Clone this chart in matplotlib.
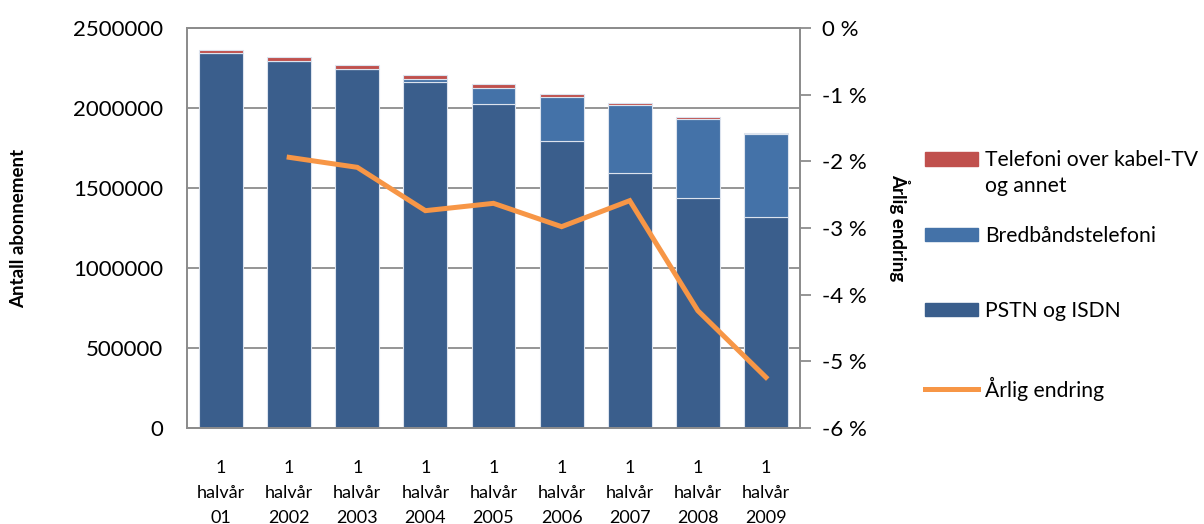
import matplotlib.pyplot as plt
from matplotlib.patches import Patch
from matplotlib.lines import Line2D
from matplotlib.ticker import FuncFormatter

plt.rcParams['font.family'] = ['Lato', 'DejaVu Sans']

# data
labels = ["1\nhalvår\n01", "1\nhalvår\n2002", "1\nhalvår\n2003", "1\nhalvår\n2004",
          "1\nhalvår\n2005", "1\nhalvår\n2006", "1\nhalvår\n2007", "1\nhalvår\n2008",
          "1\nhalvår\n2009"]
pstn = [2343750, 2293750, 2241700, 2164600, 2027100, 1791700, 1591700, 1439600, 1316700]
bredband = [0, 0, 0, 16600, 95800, 275000, 425000, 493700, 518700]
kabeltv = [18750, 22950, 27050, 25000, 25000, 18700, 12500, 8400, 8350]
endring = [None, -1.94, -2.09, -2.74, -2.63, -2.98, -2.59, -4.24, -5.24]

c_pstn = "#3A5E8C"
c_bb = "#4472A8"
c_kab = "#C0504D"
c_line = "#F79646"
c_axis = "#8C8C8C"

fig = plt.figure(figsize=(12.04, 5.24), dpi=100)
ax = fig.add_axes([187 / 1204, 1 - 428 / 524, 613 / 1204, 400 / 524])

x = list(range(len(labels)))
w = 0.645
edge = dict(edgecolor="#DCE3EE", linewidth=0.8)
ax.bar(x, pstn, w, color=c_pstn, zorder=2, **edge)
ax.bar(x, bredband, w, bottom=pstn, color=c_bb, zorder=2, **edge)
bot2 = [a + b for a, b in zip(pstn, bredband)]
ax.bar(x, kabeltv, w, bottom=bot2, color=c_kab, zorder=2, **edge)

ax.set_xlim(-0.5, len(labels) - 0.5)
ax.set_ylim(0, 2500000)
ax.set_yticks(range(0, 2500001, 500000))
ax.yaxis.set_major_formatter(FuncFormatter(lambda v, p: f"{int(v)}"))
ax.tick_params(axis="y", length=0, labelsize=16, pad=17)
ax.set_xticks(x)
ax.set_xticklabels(labels, fontsize=13, linespacing=1.68)
ax.tick_params(axis="x", length=0, pad=23)
ax.yaxis.grid(True, color=c_axis, linewidth=1.3, zorder=0)
ax.set_axisbelow(True)
for s in ax.spines.values():
    s.set_color(c_axis)
    s.set_linewidth(1.3)
ax.set_ylabel("Antall abonnement", fontsize=13.5, fontweight="bold", va="center")
ax.yaxis.set_label_coords(-(187 - 19) / 613, 0.5)

ax2 = ax.twinx()
xs = [i for i, v in zip(x, endring) if v is not None]
ys = [v for v in endring if v is not None]
ax2.plot(xs, ys, color=c_line, linewidth=3.6, solid_joinstyle="miter", zorder=3)
ax2.set_ylim(-6, 0)
ax2.set_yticks(range(-6, 1))
ax2.yaxis.set_major_formatter(FuncFormatter(lambda v, p: f"{int(v)} %"))
ax2.tick_params(axis="y", length=8, width=1.3, color=c_axis, labelsize=16, pad=8)
for s in ax2.spines.values():
    s.set_color(c_axis)
    s.set_linewidth(1.3)
ax2.set_ylabel("Årlig endring", fontsize=13.5, fontweight="bold", rotation=-90, va="center")
ax2.yaxis.set_label_coords((900 - 187) / 613, 0.5)

handles = [Patch(color=c_kab), Patch(color=c_bb), Patch(color=c_pstn),
           Line2D([], [], color=c_line, linewidth=3.6)]
names = ["Telefoni over kabel-TV", "Bredbåndstelefoni", "PSTN og ISDN", "Årlig endring"]
leg = fig.legend(handles, names, loc="upper left", bbox_to_anchor=(917 / 1204, 1 - 142 / 524),
                 frameon=False, fontsize=15.2, handlelength=2.5, handleheight=0.6,
                 handletextpad=0.32, labelspacing=2.62, borderaxespad=0)

# second line of the first legend label, placed under the first line
fig.canvas.draw()
bb = leg.get_texts()[0].get_window_extent()
fig.text(bb.x0 / 1204, (bb.y0 - 26) / 524, "og annet", fontsize=15.2, ha="left", va="bottom")

plt.savefig("out.png", dpi=100)
